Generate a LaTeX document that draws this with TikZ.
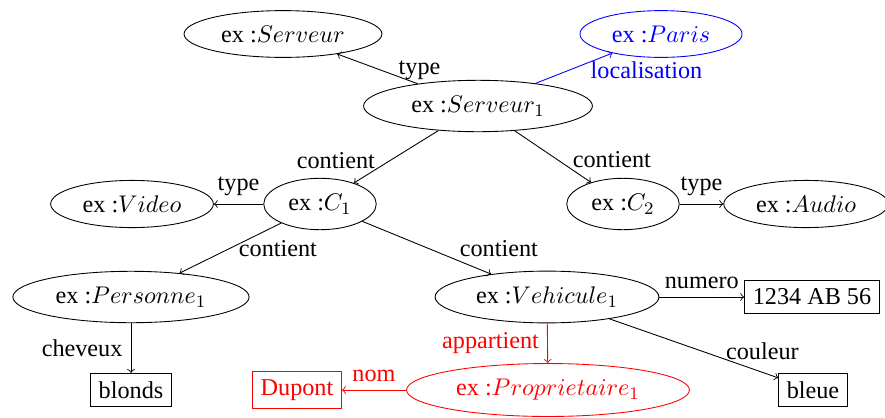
\documentclass[tikz,border=0pt]{standalone}
\usepackage{fontspec}
\setmainfont{Liberation Serif}
\usetikzlibrary{shapes.geometric}
\begin{document}
\begin{tikzpicture}[x=0.4545pt,y=-0.4545pt,
  every node/.style={font=\fontsize{11}{13.5}\selectfont,inner sep=3.7pt},
  res/.style={ellipse,draw},
  lit/.style={rectangle,draw},
  arr/.style={->},
  hl/.style={draw=red,text=red},
  hb/.style={draw=blue,text=blue}]
\useasboundingbox (0,0) rectangle (885,417);
% nodes
\node[res] (serveur) at (283,34) {ex :$Serveur$};
\node[res,hb] (paris) at (661,34) {ex :$Paris$};
\node[res,minimum width=104pt] (s1) at (478,106) {ex :$Serveur_1$};
\node[res] (video) at (132,204) {ex :$Video$};
\node[res] (c1) at (320,204) {ex :$C_1$};
\node[res] (c2) at (623,204) {ex :$C_2$};
\node[res] (audio) at (806,204) {ex :$Audio$};
\node[res] (pers) at (131,297) {ex :$Personne_1$};
\node[res] (veh) at (547,297) {ex :$Vehicule_1$};
\node[lit] (num) at (812,297) {1234 AB 56};
\node[lit] (blonds) at (131,390) {blonds};
\node[lit,hl] (dupont) at (297,390) {Dupont};
\node[res,hl] (prop) at (548,390) {ex :$Proprietaire_1$};
\node[lit] (bleue) at (813,390) {bleue};
% edges
\draw[arr] (s1) -- (serveur) node[pos=0.1,above,xshift=4.5pt,yshift=-3.5pt] {type};
\draw[arr,blue] (s1) -- (paris) node[pos=1,below,xshift=15.5pt] {localisation};
\draw[arr] (s1) -- (c1) node[pos=0.65,left,yshift=2pt] {contient};
\draw[arr] (s1) -- (c2) node[pos=0.65,right,yshift=2pt] {contient};
\draw[arr] (c1) -- (video) node[midway,above] {type};
\draw[arr] (c2) -- (audio) node[midway,above] {type};
\draw[arr] (c1) -- (pers) node[midway,right] {contient};
\draw[arr] (c1) -- (veh) node[pos=0.75,above right,xshift=-3.5pt,yshift=-2pt] {contient};
\draw[arr] (veh) -- (num) node[midway,above] {numero};
\draw[arr] (veh) -- (bleue) node[pos=0.88,above,yshift=1pt,xshift=2pt] {couleur};
\draw[arr,red] (veh) -- (prop) node[midway,left] {appartient};
\draw[arr,red] (prop) -- (dupont) node[midway,above] {nom};
\draw[arr] (pers) -- (blonds) node[midway,left] {cheveux};
\end{tikzpicture}
\end{document}
